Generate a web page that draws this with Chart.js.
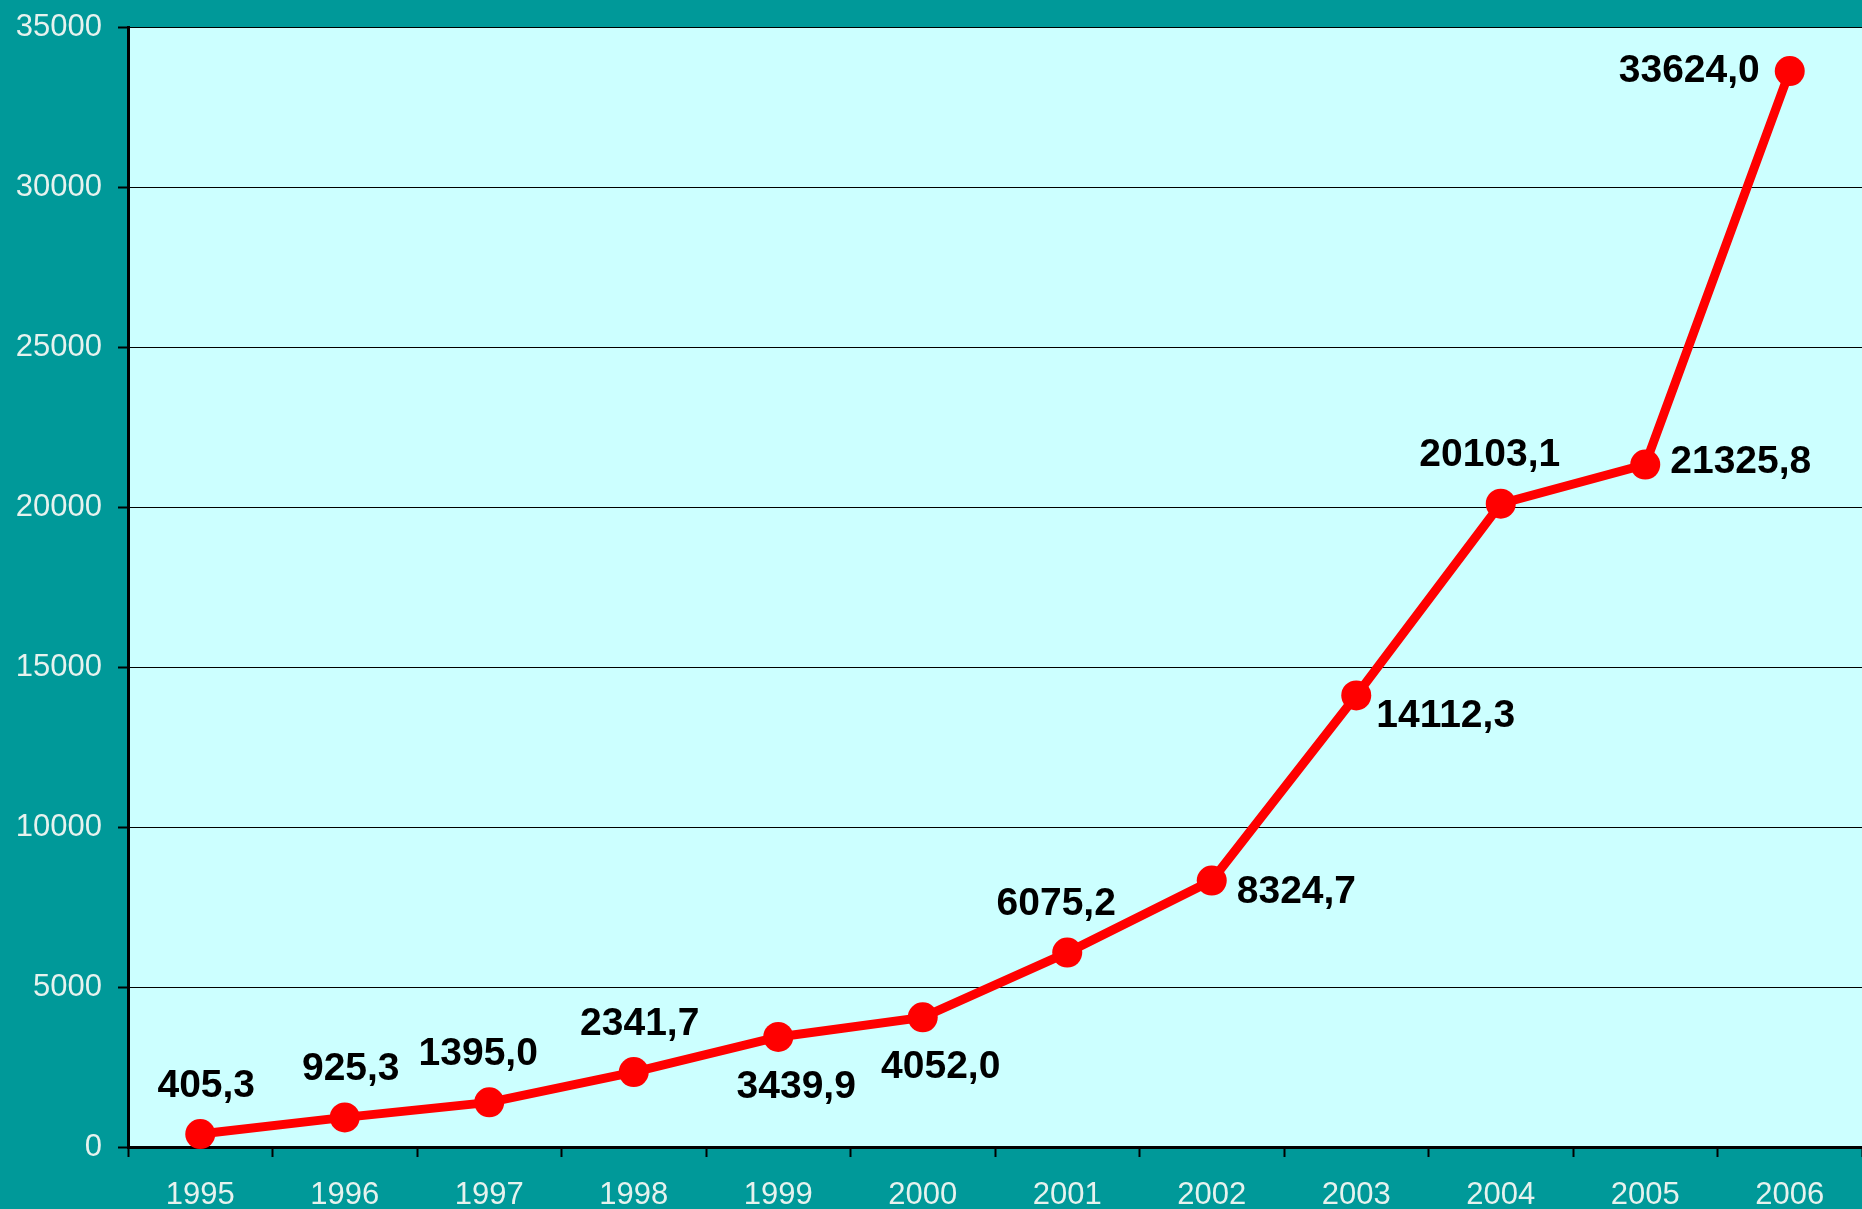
<!DOCTYPE html>
<html>
<head>
<meta charset="utf-8">
<script src="https://cdn.jsdelivr.net/npm/chart.js@4"></script>
<style>
  html, body { margin: 0; background: #009999; overflow: hidden; }
  #wrap { width: 1862px; height: 1209px; position: relative; }
  #wrap canvas { display: block; }
</style>
</head>
<body>
<div id="wrap"><canvas id="myChart"></canvas></div>
<script>
const years = ["1995", "1996", "1997", "1998", "1999", "2000", "2001", "2002", "2003", "2004", "2005", "2006"];
const values = [405.3, 925.3, 1395.0, 2341.7, 3439.9, 4052.0, 6075.2, 8324.7, 14112.3, 20103.1, 21325.8, 33624.0];
const yTicks = [0, 5000, 10000, 15000, 20000, 25000, 30000, 35000];
// where each value label sits relative to its point
const labelSide = ["above", "above", "aboveLeft", "above", "below", "below", "aboveLeft", "rightLow", "rightBelow", "aboveLeft", "right", "left"];

const plotBg = {
  id: "plotBg",
  beforeDraw(chart) {
    const { ctx, chartArea: a } = chart;
    ctx.save();
    ctx.fillStyle = "#ccffff";
    ctx.fillRect(a.left, a.top, a.right - a.left, a.bottom - a.top);
    ctx.restore();
  },
};

const valueLabels = {
  id: "valueLabels",
  afterDatasetsDraw(chart) {
    const ctx = chart.ctx;
    const pts = chart.getDatasetMeta(0).data;
    ctx.save();
    ctx.font = "bold 39px 'Liberation Sans', Arial, sans-serif";
    ctx.fillStyle = "#000";
    ctx.textBaseline = "middle";
    pts.forEach((p, i) => {
      const txt = values[i].toFixed(1).replace(".", ",");
      let x = p.x, y = p.y;
      ctx.textAlign = "center";
      const side = labelSide[i];
      if (side == "above") { x += 6; y -= 48; }
      else if (side == "aboveLeft") { x -= 11; y -= 48; }
      else if (side == "below") { x += 18; y += 50; }
      else if (side == "right") { ctx.textAlign = "left"; x += 25; y -= 2; }
      else if (side == "rightLow") { ctx.textAlign = "left"; x += 25; y += 12; }
      else if (side == "rightBelow") { ctx.textAlign = "left"; x += 20; y += 21; }
      else if (side == "left") { ctx.textAlign = "right"; x -= 30; }
      ctx.fillText(txt, x, y);
    });
    ctx.restore();
  },
};

const config = {
  type: "line",
  data: {
    labels: years,
    datasets: [
      {
        data: values,
        borderColor: "#ff0000",
        backgroundColor: "#ff0000",
        borderWidth: 9,
        pointRadius: 15,
        pointHoverRadius: 15,
        pointBorderWidth: 0,
        tension: 0,
        clip: false,
      },
    ],
  },
  options: {
    responsive: true,
    maintainAspectRatio: false,
    animation: false,
    layout: { autoPadding: false, padding: { top: 27, right: 0, left: 0, bottom: 0 } },
    plugins: { legend: { display: false }, tooltip: { enabled: false } },
    scales: {
      x: {
        offset: true,
        grid: {
          offset: true,
          drawOnChartArea: false,
          drawTicks: true,
          tickLength: 10,
          tickWidth: 2,
          tickColor: "#000",
        },
        border: { color: "#000", width: 3 },
        ticks: {
          color: "#e6f2ee",
          font: { family: "'Liberation Sans', Arial, sans-serif", size: 31 },
          padding: 20,
          maxRotation: 0,
        },
        afterFit(scale) {
          scale.height = 62;
          scale.paddingLeft = 0;
          scale.paddingRight = 0;
        },
      },
      y: {
        min: 0,
        max: 35000,
        afterBuildTicks(scale) { scale.ticks = yTicks.map((v) => ({ value: v })); },
        grid: {
          color: "#000",
          lineWidth: 1,
          tickLength: 10,
          tickColor: "#000",
          tickWidth: 2,
        },
        border: { color: "#000", width: 3 },
        ticks: {
          color: "#e6f2ee",
          font: { family: "'Liberation Sans', Arial, sans-serif", size: 31 },
          padding: 16,
          callback: (v) => String(v),
        },
        afterFit(scale) {
          scale.width = 128;
          scale.paddingTop = 0;
          scale.paddingBottom = 0;
        },
      },
    },
  },
  plugins: [plotBg, valueLabels],
};

const myChart = new Chart(document.getElementById("myChart"), config);
</script>
</body>
</html>
